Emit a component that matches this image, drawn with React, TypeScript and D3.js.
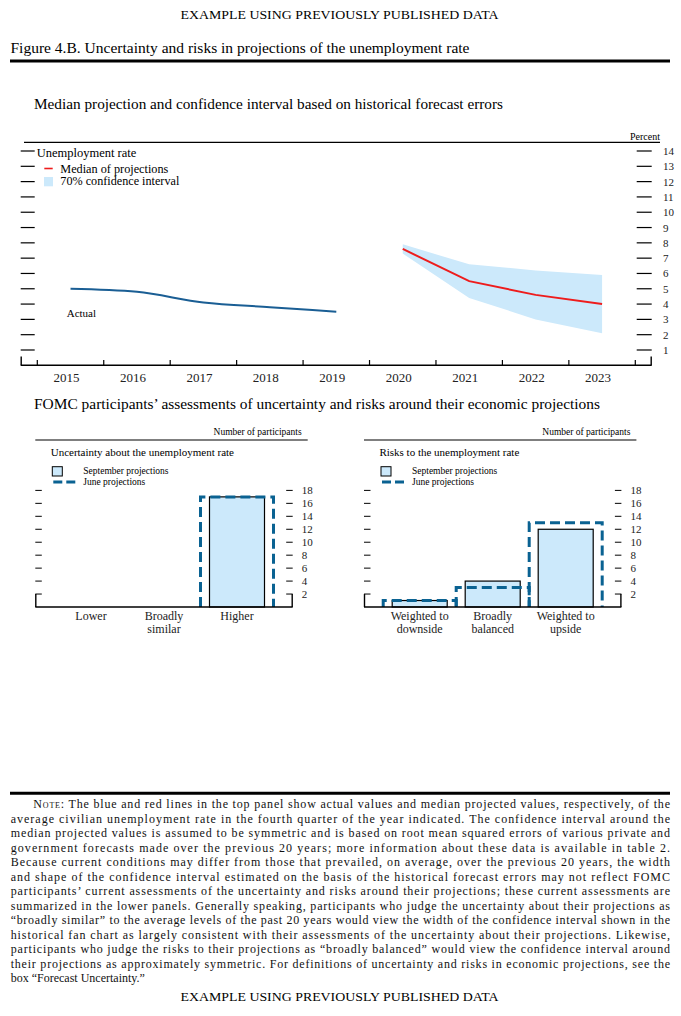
import React from "react";
import * as d3 from "d3";

// ---------- Data ----------
const years = ["2015", "2016", "2017", "2018", "2019", "2020", "2021", "2022", "2023"];
const actualYears = ["2015", "2016", "2017", "2018", "2019"];
const actualValues = [5.0, 4.8, 4.1, 3.8, 3.5];
const projYears = ["2020", "2021", "2022", "2023"];
const medianValues = [7.6, 5.5, 4.6, 4.0];
const lowerValues = [7.3, 4.4, 3.0, 2.1];
const upperValues = [7.9, 6.6, 6.2, 5.9];
const percentTicks = [1, 2, 3, 4, 5, 6, 7, 8, 9, 10, 11, 12, 13, 14];

const uncertaintyCategories = [["Lower"], ["Broadly", "similar"], ["Higher"]];
const uncertaintySeptember = [0, 0, 17];
const uncertaintyJune = [0, 0, 17];
const riskCategories = [["Weighted to", "downside"], ["Broadly", "balanced"], ["Weighted to", "upside"]];
const riskSeptember = [1, 4, 12];
const riskJune = [1, 3, 13];
const participantTicks = [2, 4, 6, 8, 10, 12, 14, 16, 18];

const noteLines = [
  "The blue and red lines in the top panel show actual values and median projected values, respectively, of the",
  "average civilian unemployment rate in the fourth quarter of the year indicated. The confidence interval around the",
  "median projected values is assumed to be symmetric and is based on root mean squared errors of various private and",
  "government forecasts made over the previous 20 years; more information about these data is available in table 2.",
  "Because current conditions may differ from those that prevailed, on average, over the previous 20 years, the width",
  "and shape of the confidence interval estimated on the basis of the historical forecast errors may not reflect FOMC",
  "participants\u2019 current assessments of the uncertainty and risks around their projections; these current assessments are",
  "summarized in the lower panels. Generally speaking, participants who judge the uncertainty about their projections as",
  "\u201cbroadly similar\u201d to the average levels of the past 20 years would view the width of the confidence interval shown in the",
  "historical fan chart as largely consistent with their assessments of the uncertainty about their projections. Likewise,",
  "participants who judge the risks to their projections as \u201cbroadly balanced\u201d would view the confidence interval around",
  "their projections as approximately symmetric. For definitions of uncertainty and risks in economic projections, see the",
  "box \u201cForecast Uncertainty.\u201d",
];

// ---------- Styles ----------
const SERIF = "'Liberation Serif', 'Times New Roman', serif";
const BLUE = "#1a5e94";
const RED = "#ee1c1c";
const BAND = "#cce9fb";
const DASH = "#0a6292";

function BarPanel(props: {
  left: number;
  title: string;
  cats: string[][];
  sept: number[];
  june: number[];
}) {
  const { left, title, cats, sept, june } = props;
  const right = left + 257.4;
  const y = d3.scaleLinear().domain([0, 18]).range([607, 490.4]);
  const x = d3
    .scaleBand<number>()
    .domain(cats.map((_, i) => i))
    .range([left + 19.2, left + 19.2 + 219]);
  const bw = x.bandwidth();
  const inner = 9;
  const y0 = y(0);
  return (
    <g>
      <text x={left + 266.4} y={435} fontSize={9.5} textAnchor="end" fontFamily={SERIF}>
        Number of participants
      </text>
      <line x1={left} x2={left + 272.4} y1={440} y2={440} stroke="#000" strokeWidth={1.2} />
      <text x={left + 15.4} y={456} fontSize={11} fontFamily={SERIF}>
        {title}
      </text>
      <rect x={left + 17} y={466.7} width={10} height={9.3} fill={BAND} stroke="#000" strokeWidth={1} />
      <text x={left + 48} y={473.5} fontSize={9.5} fontFamily={SERIF}>
        September projections
      </text>
      <line
        x1={left + 18}
        x2={left + 40}
        y1={482}
        y2={482}
        stroke={DASH}
        strokeWidth={3}
        strokeDasharray="9,4"
      />
      <text x={left + 48} y={485} fontSize={9.5} fontFamily={SERIF}>
        June projections
      </text>

      {/* ticks */}
      {participantTicks.map((t) => (
        <g key={t}>
          <line x1={left} x2={left + 6.5} y1={y(t)} y2={y(t)} stroke="#000" strokeWidth={1} />
          <line x1={right - 6.5} x2={right} y1={y(t)} y2={y(t)} stroke="#000" strokeWidth={1} />
          <text x={right + 9} y={y(t) + 4} fontSize={11} fontFamily={SERIF} fill="#222">
            {t}
          </text>
        </g>
      ))}

      {/* September bars */}
      {sept.map((v, i) =>
        v > 0 ? (
          <rect
            key={"s" + i}
            x={(x(i) as number) + inner}
            width={bw - 2 * inner}
            y={y(v)}
            height={y0 - y(v)}
            fill={BAND}
            stroke="#000"
            strokeWidth={1.2}
          />
        ) : null
      )}
      {/* June outlines */}
      {june.map((v, i) => {
        if (v <= 0) return null;
        const xl = x(i) as number;
        const p = d3.path();
        p.moveTo(xl, y0);
        p.lineTo(xl, y(v));
        p.lineTo(xl + bw, y(v));
        p.lineTo(xl + bw, y0);
        return (
          <path
            key={"j" + i}
            d={p.toString()}
            fill="none"
            stroke={DASH}
            strokeWidth={3}
            strokeDasharray="10,5"
          />
        );
      })}

      {/* axis */}
      <line x1={left} x2={right} y1={y0} y2={y0} stroke="#000" strokeWidth={1.6} />
      <line x1={left + 0.5} x2={left + 0.5} y1={y(2)} y2={y0} stroke="#000" strokeWidth={1.4} />
      <line x1={right - 0.5} x2={right - 0.5} y1={y(2)} y2={y0} stroke="#000" strokeWidth={1.4} />

      {cats.map((lines, i) => (
        <text
          key={"c" + i}
          x={(x(i) as number) + bw / 2}
          y={620}
          fontSize={12}
          textAnchor="middle"
          fontFamily={SERIF}
          fill="#222"
        >
          {lines.map((l, k) => (
            <tspan key={k} x={(x(i) as number) + bw / 2} dy={k === 0 ? 0 : 13.3}>
              {l}
            </tspan>
          ))}
        </text>
      ))}
    </g>
  );
}

export default function App() {
  const xTop = d3.scaleBand<string>().domain(years).range([37.3, 635.3]);
  const yTop = d3.scaleLinear().domain([0, 14]).range([365.3, 151]);
  const cx = (yr: string) => (xTop(yr) as number) + xTop.bandwidth() / 2;

  const actualLine = d3
    .line<number>()
    .x((_, i) => cx(actualYears[i]))
    .y((d) => yTop(d))
    .curve(d3.curveMonotoneX);
  const medianLine = d3
    .line<number>()
    .x((_, i) => cx(projYears[i]))
    .y((d) => yTop(d));
  const bandArea = d3
    .area<number>()
    .x((_, i) => cx(projYears[i]))
    .y0((_, i) => yTop(lowerValues[i]))
    .y1((_, i) => yTop(upperValues[i]));

  const boundaries = years.map((yr) => xTop(yr) as number).concat([635.3]);
  const axisY = yTop(0);

  return (
    <svg
      width={681}
      height={1016}
      style={{ position: "absolute", left: 0, top: 0, display: "block", background: "#fff" }}
      fontFamily={SERIF}
    >
      <rect x={0} y={0} width={681} height={1016} fill="#fff" />
      {/* Headers */}
      <text x={180.5} y={18.5} fontSize={13} textLength={318} lengthAdjust="spacingAndGlyphs">
        EXAMPLE USING PREVIOUSLY PUBLISHED DATA
      </text>
      <text x={10.5} y={52.5} fontSize={14} textLength={459} lengthAdjust="spacingAndGlyphs">
        Figure 4.B. Uncertainty and risks in projections of the unemployment rate
      </text>
      <line x1={10} x2={670} y1={61} y2={61} stroke="#000" strokeWidth={3} />
      <text x={34} y={109} fontSize={14} textLength={469} lengthAdjust="spacingAndGlyphs">
        Median projection and confidence interval based on historical forecast errors
      </text>

      {/* Top panel */}
      <line x1={24} x2={660} y1={142.3} y2={142.3} stroke="#000" strokeWidth={1.2} />
      <text x={660} y={140} fontSize={10} textAnchor="end">
        Percent
      </text>

      {percentTicks.map((t) => (
        <g key={t}>
          <line x1={20.7} x2={34.7} y1={yTop(t)} y2={yTop(t)} stroke="#000" strokeWidth={1.2} />
          <line x1={636.7} x2={651.7} y1={yTop(t)} y2={yTop(t)} stroke="#000" strokeWidth={1.2} />
          <text x={663} y={yTop(t) + 4} fontSize={11} fill="#222">
            {t}
          </text>
        </g>
      ))}

      <path d={bandArea(medianValues) || ""} fill={BAND} stroke="none" />
      <path d={medianLine(medianValues) || ""} fill="none" stroke={RED} strokeWidth={2} />
      <path d={actualLine(actualValues) || ""} fill="none" stroke={BLUE} strokeWidth={2} />

      <text x={66.7} y={316.5} fontSize={11}>
        Actual
      </text>

      {/* Legend */}
      <text x={36.7} y={156.5} fontSize={12.5}>
        Unemployment rate
      </text>
      <line x1={44.3} x2={52.7} y1={168.5} y2={168.5} stroke={RED} strokeWidth={1.6} />
      <text x={60.3} y={172.5} fontSize={11.5} textLength={108} lengthAdjust="spacingAndGlyphs">
        Median of projections
      </text>
      <rect x={44} y={177} width={9} height={9.3} fill={BAND} />
      <text x={60.3} y={185} fontSize={11.5} textLength={119} lengthAdjust="spacingAndGlyphs">
        70% confidence interval
      </text>

      {/* x axis */}
      <line x1={20.7} x2={651.7} y1={axisY} y2={axisY} stroke="#000" strokeWidth={1.5} />
      <line x1={21.2} x2={21.2} y1={356.5} y2={axisY} stroke="#000" strokeWidth={1.4} />
      <line x1={651.2} x2={651.2} y1={356.5} y2={axisY} stroke="#000" strokeWidth={1.4} />
      {boundaries.map((b, i) => (
        <line key={i} x1={b} x2={b} y1={360} y2={axisY} stroke="#000" strokeWidth={1.2} />
      ))}
      {years.map((yr) => (
        <text key={yr} x={cx(yr) - 4} y={381.5} fontSize={13} textAnchor="middle" fill="#222">
          {yr}
        </text>
      ))}

      {/* Section heading */}
      <text x={34} y={409} fontSize={14} textLength={566} lengthAdjust="spacingAndGlyphs">
        FOMC participants&#8217; assessments of uncertainty and risks around their economic projections
      </text>

      <BarPanel
        left={35.3}
        title="Uncertainty about the unemployment rate"
        cats={uncertaintyCategories}
        sept={uncertaintySeptember}
        june={uncertaintyJune}
      />
      <BarPanel
        left={364}
        title="Risks to the unemployment rate"
        cats={riskCategories}
        sept={riskSeptember}
        june={riskJune}
      />

      {/* Note */}
      <line x1={10} x2={670} y1={793.3} y2={793.3} stroke="#000" strokeWidth={3} />
      {noteLines.map((l, i) => {
        const first = i === 0;
        const last = i === noteLines.length - 1;
        const x0 = first ? 33.3 : 10.7;
        const props: any = last ? {} : { textLength: 670 - x0, lengthAdjust: "spacing" };
        return (
          <text key={i} x={x0} y={808.3 + i * 14.5} fontSize={12} fill="#111" {...props}>
            {first ? (
              <>
                <tspan style={{ fontVariant: "small-caps" }}>Note:</tspan>
                <tspan> {l}</tspan>
              </>
            ) : (
              l
            )}
          </text>
        );
      })}
      <text x={180.5} y={1001} fontSize={13} textLength={318} lengthAdjust="spacingAndGlyphs">
        EXAMPLE USING PREVIOUSLY PUBLISHED DATA
      </text>
    </svg>
  );
}
